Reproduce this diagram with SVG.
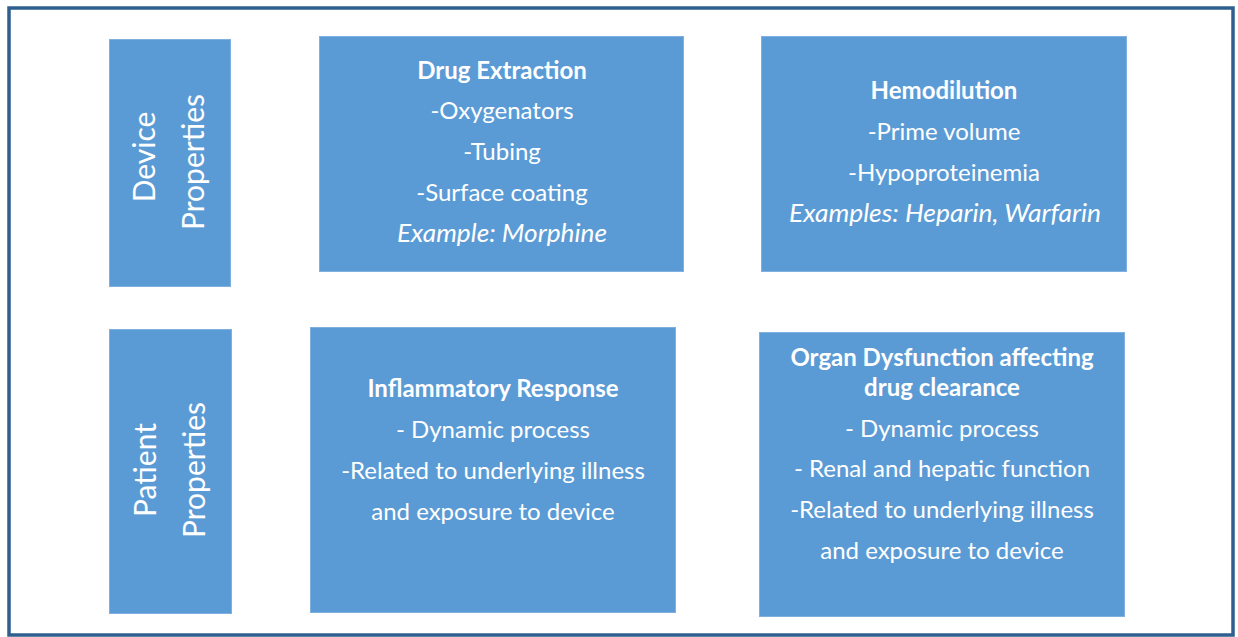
<svg xmlns="http://www.w3.org/2000/svg" width="1238" height="637" viewBox="0 0 1238 637">
<style>
.box{fill:#5b9bd5;stroke:#7fb0df;stroke-width:1}
text{font-family:Lato,"Open Sans","Liberation Sans",sans-serif;fill:#ffffff;font-size:24px;text-anchor:middle}
.b{font-weight:bold}
.i{font-style:italic;font-size:25px}
.v{font-size:30px}
</style>
<rect x="0" y="0" width="1238" height="637" fill="#ffffff"/>
<rect x="9" y="8" width="1224" height="627" fill="none" stroke="#2f5f8f" stroke-width="3.5"/>
<g id="connectors"></g>
<g id="device">
<rect class="box" x="109.5" y="39.5" width="121" height="247"/>
<text class="v" transform="translate(155,157) rotate(-90)">Device</text>
<text class="v" transform="translate(204,162) rotate(-90)">Properties</text>
</g>
<g id="drug-extraction">
<rect class="box" x="319.5" y="36.5" width="364" height="235"/>
<text class="b" x="502" y="79">Drug Extraction</text>
<text x="502" y="119">-Oxygenators</text>
<text x="502" y="160">-Tubing</text>
<text x="502" y="201">-Surface coating</text>
<text class="i" x="502" y="242" textLength="210" lengthAdjust="spacingAndGlyphs">Example: Morphine</text>
</g>
<g id="hemodilution">
<rect class="box" x="761.5" y="36.5" width="365" height="235"/>
<text class="b" x="944" y="99">Hemodilution</text>
<text x="944" y="140">-Prime volume</text>
<text x="944" y="181">-Hypoproteinemia</text>
<text class="i" x="945" y="222" textLength="312" lengthAdjust="spacingAndGlyphs">Examples: Heparin, Warfarin</text>
</g>
<g id="patient">
<rect class="box" x="109.5" y="329.5" width="122" height="284"/>
<text class="v" transform="translate(156,470) rotate(-90)">Patient</text>
<text class="v" transform="translate(205,470) rotate(-90)">Properties</text>
</g>
<g id="inflammatory">
<rect class="box" x="310.5" y="327.5" width="365" height="285"/>
<text class="b" x="493" y="397">Inflammatory Response</text>
<text x="493" y="438">- Dynamic process</text>
<text x="493" y="479">-Related to underlying illness</text>
<text x="493" y="520">and exposure to device</text>
</g>
<g id="organ">
<rect class="box" x="759.5" y="332.5" width="365" height="284"/>
<text class="b" x="942" y="366">Organ Dysfunction affecting</text>
<text class="b" x="942" y="396">drug clearance</text>
<text x="942" y="437">- Dynamic process</text>
<text x="942" y="477">- Renal and hepatic function</text>
<text x="942" y="518">-Related to underlying illness</text>
<text x="942" y="559">and exposure to device</text>
</g>
</svg>
